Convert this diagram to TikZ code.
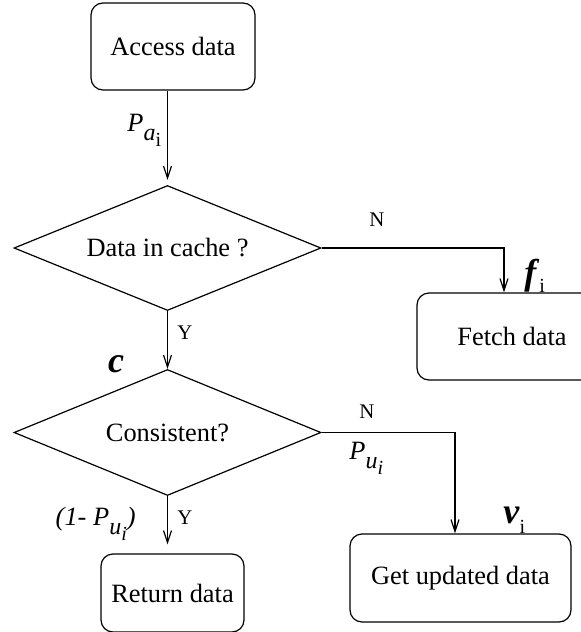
\documentclass[tikz,border=0pt]{standalone}
\usepackage{fontspec}
\setmainfont{Liberation Serif}
\usetikzlibrary{shapes.geometric,arrows.meta}
\newcommand{\mainsz}{\fontsize{13.2}{15}\selectfont}
\newcommand{\lblsz}{\fontsize{10.4}{12}\selectfont}
\newcommand{\subAsz}{\fontsize{12}{13}\selectfont}
\newcommand{\subBsz}{\fontsize{10}{11}\selectfont}
\newcommand{\bigsz}{\fontsize{18}{20}\selectfont}
\newcommand{\tinysz}{\fontsize{10}{11}\selectfont}
\newcommand{\myPa}{\textit{P}\raisebox{-4.5pt}{\subAsz\textit{a}\raisebox{-3pt}{\subBsz i}}}
\newcommand{\myPu}{\textit{P}\raisebox{-4.5pt}{\subAsz\textit{u}\raisebox{-3pt}{\subBsz\textit{i}}}}
\tikzset{
  x=0.5pt, y=-0.5pt,
  box/.style={draw, rounded corners=6pt, line width=0.6pt, inner sep=0pt, font=\mainsz},
  dec/.style={draw, shape=diamond, aspect=2.45, inner sep=0pt, line width=0.6pt, font=\mainsz},
  lbl/.style={inner sep=0pt, font=\lblsz},
  sym/.style={inner sep=0pt, font=\mainsz},
  arr/.style={draw, line width=0.6pt, -{Straight Barb[length=6pt,width=4pt,line width=0.6pt]}}
}
\begin{document}
\begin{tikzpicture}
\useasboundingbox (0,0) rectangle (581,632);

\node[box, minimum width=82pt, minimum height=43.5pt] (acc) at (173,46.5) {Access data};
\node[dec, minimum width=153.5pt, minimum height=62.5pt] (d1) at (167.5,248) {Data in cache ?};
\node[box, minimum width=95pt, minimum height=43.5pt] (fetch) at (512,336.5) {Fetch data};
\node[dec, minimum width=153.5pt, minimum height=63pt] (d2) at (167.5,432.5) {Consistent?};
\node[box, minimum width=71.5pt, minimum height=39pt] (ret) at (172.5,593) {Return data};
\node[box, minimum width=110.5pt, minimum height=44pt] (upd) at (460.5,578) {Get updated data};

% connectors
\draw[arr, shorten >=2.5pt] (acc.south -| d1.north) -- (d1.north);
\draw[arr] (d1.east) -| ([xshift=-4pt]fetch.north);
\draw[arr] (d1.south) -- (d2.north);
\draw[arr] (d2.east) -| ([xshift=-2.75pt]upd.north);
\draw[arr, shorten >=4.5pt] (d2.south) -- (d2.south |- ret.north);

% labels
\node[sym, anchor=base west] (pa) at (127,131) {\myPa};
\node[lbl] (n1) at (377,220) {N};
\node[sym, anchor=base west] (fi) at (524,284) {\bigsz\textbf{\textit{f}}\raisebox{-4pt}{\tinysz i}};
\node[lbl] (y1) at (185,333) {Y};
\node[sym, anchor=base] (cc) at (116,372) {\bigsz\textbf{\textit{c}}};
\node[lbl] (n2) at (367,412) {N};
\node[sym, anchor=base west] (pu) at (349,459) {\myPu};
\node[lbl] (y2) at (185,518) {Y};
\node[sym, anchor=base east] (pu1) at (136,525) {\textit{(1- }\myPu\textit{)}};
\node[sym, anchor=base west] (vi) at (503,523) {\bigsz\textbf{\textit{v}}\raisebox{-5pt}{\tinysz i}};
\end{tikzpicture}
\end{document}
